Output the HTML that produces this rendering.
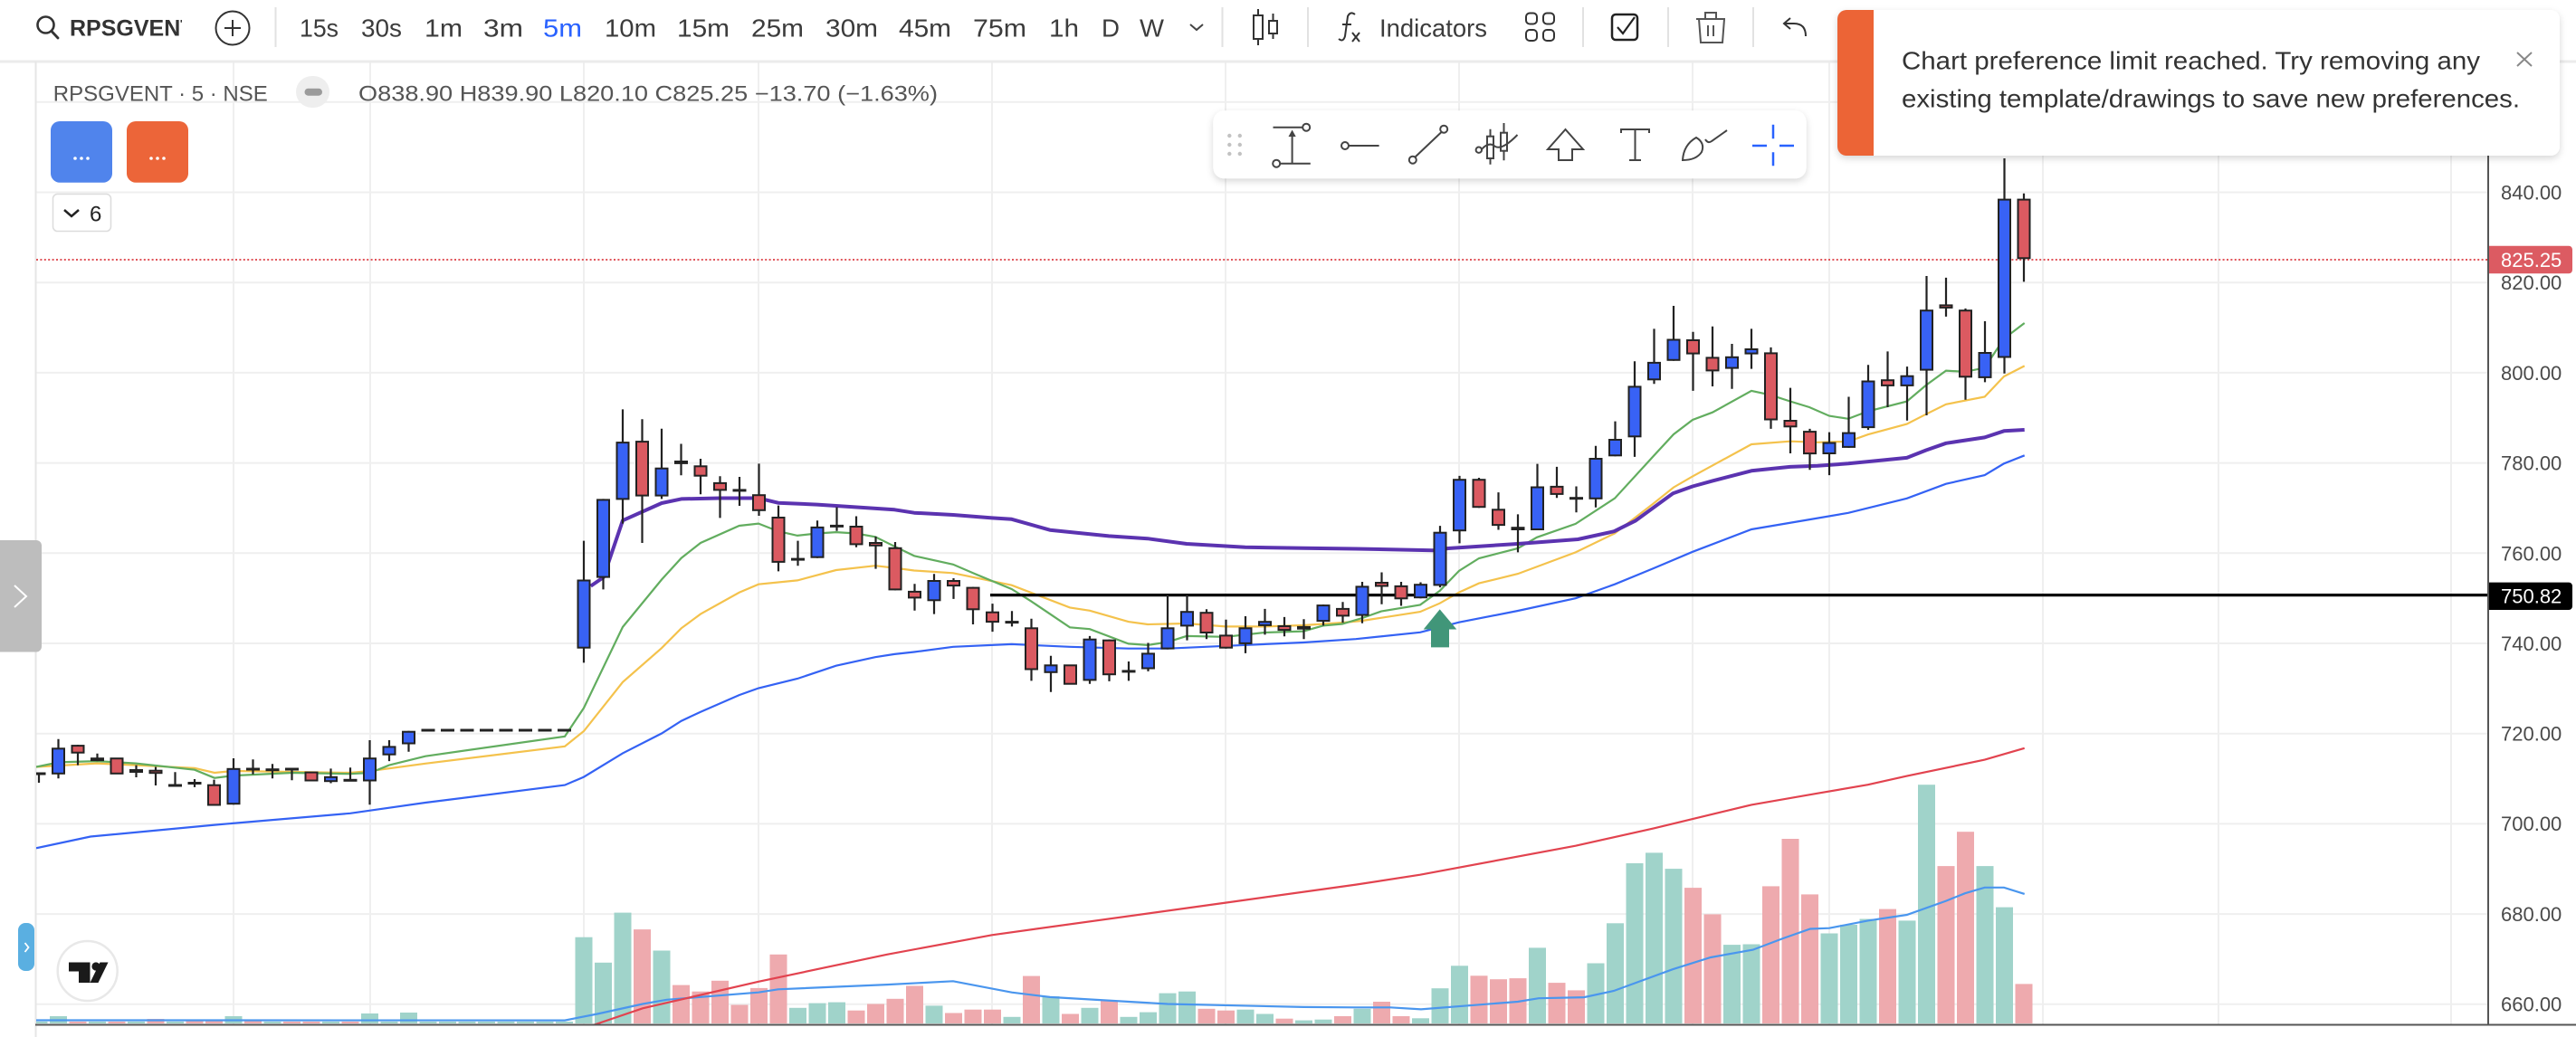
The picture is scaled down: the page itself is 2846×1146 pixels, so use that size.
<!DOCTYPE html>
<html><head><meta charset="utf-8"><style>
html,body{margin:0;padding:0;background:#fff;overflow:hidden}
svg{display:block}
text{font-family:"Liberation Sans",sans-serif}
</style></head><body>
<svg width="2846" height="1146" viewBox="0 0 2846 1146" xmlns="http://www.w3.org/2000/svg">
<defs>
<clipPath id="pane"><rect x="40" y="69" width="2709" height="1063"/></clipPath>
<clipPath id="sym"><rect x="70" y="0" width="131" height="60"/></clipPath>
<filter id="sh" x="-10%" y="-30%" width="120%" height="170%"><feDropShadow dx="0" dy="3" stdDeviation="4" flood-color="#000" flood-opacity="0.16"/></filter>
<clipPath id="toastclip"><rect x="2030" y="11" width="798" height="161" rx="10"/></clipPath>
</defs>
<rect width="2846" height="1146" fill="#fff"/>

<!-- grid -->
<g stroke="#efefef" stroke-width="2">
<path d="M40 112.8H2749M40 212.5H2749M40 312.2H2749M40 411.9H2749M40 511.6H2749M40 611.3H2749M40 711H2749M40 810.7H2749M40 910.4H2749M40 1010.1H2749M40 1109.8H2749"/>
<path d="M258 69V1132M409 69V1132M645 69V1132M838 69V1132M1096 69V1132M1354 69V1132M1612 69V1132M1870 69V1132M2021 69V1132M2257 69V1132M2451 69V1132M2708 69V1132"/>
</g>
<line x1="0" y1="68" x2="2846" y2="68" stroke="#ebebeb" stroke-width="3"/>
<line x1="39.5" y1="68" x2="39.5" y2="1146" stroke="#e6e6e6" stroke-width="2"/>

<g clip-path="url(#pane)">
<!-- volume -->
<g fill="#a0d3ca">
<rect x="33.5" y="1129" width="19" height="2"/><rect x="55" y="1123" width="19" height="8"/><rect x="98" y="1129" width="19" height="2"/><rect x="141" y="1129" width="19" height="2"/><rect x="184" y="1129" width="19" height="2"/><rect x="248.5" y="1123" width="19" height="8"/><rect x="291.5" y="1129" width="19" height="2"/><rect x="356" y="1129" width="19" height="2"/><rect x="399" y="1120" width="19" height="11"/><rect x="420.5" y="1129" width="19" height="2"/><rect x="442" y="1119" width="19" height="12"/>
<rect x="463.5" y="1129" width="19" height="2"/><rect x="485" y="1129" width="19" height="2"/><rect x="506.5" y="1129" width="19" height="2"/><rect x="528" y="1129" width="19" height="2"/><rect x="549.5" y="1129" width="19" height="2"/><rect x="571" y="1129" width="19" height="2"/><rect x="592.5" y="1129" width="19" height="2"/><rect x="614" y="1129" width="19" height="2"/>
<rect x="635.5" y="1035.7" width="19" height="95.3"/><rect x="657" y="1063.8" width="19" height="67.2"/><rect x="678.5" y="1008.6" width="19" height="122.4"/><rect x="721.5" y="1050.5" width="19" height="80.5"/>
<rect x="872" y="1113.8" width="19" height="17.2"/><rect x="893.5" y="1108.6" width="19" height="22.4"/><rect x="915" y="1107.6" width="19" height="23.4"/>
<rect x="1022.5" y="1111.4" width="19" height="19.6"/><rect x="1108.5" y="1123.8" width="19" height="7.2"/><rect x="1151.5" y="1101" width="19" height="30"/><rect x="1194.5" y="1113.8" width="19" height="17.2"/><rect x="1237.5" y="1123.8" width="19" height="7.2"/><rect x="1259" y="1118.6" width="19" height="12.4"/><rect x="1280.5" y="1097.6" width="19" height="33.4"/><rect x="1302" y="1095.7" width="19" height="35.3"/><rect x="1366.5" y="1115.7" width="19" height="15.3"/><rect x="1388" y="1120.5" width="19" height="10.5"/><rect x="1431" y="1127.6" width="19" height="3.4"/><rect x="1452.5" y="1126.7" width="19" height="4.3"/>
<rect x="1495.5" y="1114.8" width="19" height="16.2"/><rect x="1560" y="1125.3" width="19" height="5.7"/><rect x="1581.5" y="1092.2" width="19" height="38.8"/><rect x="1603" y="1067.3" width="19" height="63.7"/><rect x="1689" y="1047.4" width="19" height="83.6"/><rect x="1753.5" y="1064.5" width="19" height="66.5"/><rect x="1775" y="1020.3" width="19" height="110.7"/><rect x="1796.5" y="954" width="19" height="177"/><rect x="1818" y="942.4" width="19" height="188.6"/><rect x="1839.5" y="960.1" width="19" height="170.9"/><rect x="1904" y="1044.1" width="19" height="86.9"/><rect x="1925.5" y="1043.5" width="19" height="87.5"/>
<rect x="2011.5" y="1031.5" width="19" height="99.5"/><rect x="2033" y="1021.9" width="19" height="109.1"/><rect x="2054.5" y="1015.5" width="19" height="115.5"/><rect x="2097.5" y="1017.4" width="19" height="113.6"/><rect x="2119" y="867.2" width="19" height="263.8"/><rect x="2183.5" y="957.1" width="19" height="173.9"/><rect x="2205" y="1002.6" width="19" height="128.4"/>
</g>
<g fill="#eeaaae">
<rect x="76.5" y="1129" width="19" height="2"/><rect x="119.5" y="1129" width="19" height="2"/><rect x="162.5" y="1126" width="19" height="5"/><rect x="205.5" y="1128" width="19" height="3"/><rect x="227" y="1128" width="19" height="3"/><rect x="270" y="1128" width="19" height="3"/><rect x="313" y="1129" width="19" height="2"/><rect x="334.5" y="1129" width="19" height="2"/><rect x="377.5" y="1129" width="19" height="2"/>
<rect x="700" y="1027.1" width="19" height="103.9"/><rect x="743" y="1088.6" width="19" height="42.4"/><rect x="764.5" y="1095.7" width="19" height="35.3"/><rect x="786" y="1083.8" width="19" height="47.2"/><rect x="807.5" y="1110.5" width="19" height="20.5"/><rect x="829" y="1091.9" width="19" height="39.1"/><rect x="850.5" y="1054.8" width="19" height="76.2"/><rect x="936.5" y="1116.7" width="19" height="14.3"/><rect x="958" y="1109.5" width="19" height="21.5"/><rect x="979.5" y="1103.8" width="19" height="27.2"/><rect x="1001" y="1089.5" width="19" height="41.5"/><rect x="1044" y="1119.5" width="19" height="11.5"/><rect x="1065.5" y="1115.7" width="19" height="15.3"/><rect x="1087" y="1115.7" width="19" height="15.3"/><rect x="1130" y="1078.6" width="19" height="52.4"/><rect x="1173" y="1120.5" width="19" height="10.5"/><rect x="1216" y="1105.7" width="19" height="25.3"/><rect x="1323.5" y="1114.8" width="19" height="16.2"/><rect x="1345" y="1116.7" width="19" height="14.3"/><rect x="1409.5" y="1125.7" width="19" height="5.3"/><rect x="1474" y="1123" width="19" height="8"/>
<rect x="1517" y="1107" width="19" height="24"/><rect x="1538.5" y="1123" width="19" height="8"/><rect x="1624.5" y="1078.3" width="19" height="52.7"/><rect x="1646" y="1082.2" width="19" height="48.8"/><rect x="1667.5" y="1081.1" width="19" height="49.9"/><rect x="1710.5" y="1086.1" width="19" height="44.9"/><rect x="1732" y="1094.4" width="19" height="36.6"/><rect x="1861" y="981.1" width="19" height="149.9"/><rect x="1882.5" y="1010.4" width="19" height="120.6"/><rect x="1947" y="979.4" width="19" height="151.6"/><rect x="1968.5" y="927" width="19" height="204"/><rect x="1990" y="988.4" width="19" height="142.6"/>
<rect x="2076" y="1004.6" width="19" height="126.4"/><rect x="2140.5" y="957.1" width="19" height="173.9"/><rect x="2162" y="919.2" width="19" height="211.8"/><rect x="2226.5" y="1087.4" width="19" height="43.6"/>
</g>
<!-- volume MA -->
<polyline fill="none" stroke="#4a96ee" stroke-width="2.2" points="40,1127.5 624,1127.6 660,1120.5 710,1109.5 736.7,1104.8 838,1096.7 859.7,1093.3 980,1088.1 1053,1084.3 1117.7,1096.7 1160,1101.9 1290,1109.5 1440,1112.9 1498,1113.3 1536,1113.3 1570,1115.4 1676.7,1107 1700,1103.2 1750,1102.1 1783,1095 1848,1071.2 1890,1058 1936.7,1049.6 1970,1037 2000,1026.5 2021,1025.7 2063.7,1017.4 2106.7,1011 2150,995.6 2171,987.2 2192.7,980.8 2214,980.8 2236.7,987.9"/>
<!-- red long MA -->
<polyline fill="none" stroke="#e2434f" stroke-width="2.2" points="655,1133 710,1114.3 838,1084.8 980,1054.8 1096,1033.3 1354,997.6 1498,977.6 1569,966.7 1740.7,934.7 1827,915.4 1935,889.4 2008.3,876.7 2063.7,867.2 2106.7,857.6 2192.7,839.6 2236.7,826.8"/>
<!-- blue MA -->
<polyline fill="none" stroke="#3462f4" stroke-width="2.2" points="40,937.3 100,924.5 237,911.6 387,898.8 470,887 624,867.6 645,858.6 688,832.4 731,810.5 752.7,796.7 774,786.7 816.7,768.1 838,760.5 881,750 923.7,735.7 967,726.2 988.3,722.9 1010,720.5 1053,714.8 1117.7,711.9 1182,714.8 1246.7,716.7 1290,716.7 1354,713.8 1440,710 1498,706.2 1569,698.8 1612,687.7 1677,675 1740.7,661.2 1784,645.7 1827,628 1870,609.8 1935,585 2000,574 2042,566.8 2106.7,550.8 2150,534.7 2192.7,525.1 2214,512.3 2236.7,503.3"/>
<!-- yellow MA -->
<polyline fill="none" stroke="#f4c24c" stroke-width="2.2" points="40,847.5 107,843.6 215,848.8 237,854 258,852 387,854 409,852 470,843.8 624,824.8 645,808 688,753.8 731,716.2 752.7,694.3 774,678.6 816.7,654.8 838,645.7 881,641.4 923.7,630 967,625.2 988.3,627.6 1010,630.5 1053,633.3 1117.7,646.7 1182,671.4 1204,674.8 1246.7,687.1 1268,690 1311,689 1354,692.4 1397,692.4 1440,691 1483,688.1 1505,686 1569,676.1 1590.7,666.7 1612,654.6 1634,644.6 1677,634.1 1740.7,610.4 1784,589.4 1827,556.2 1849,538.6 1870,526.4 1935,491 1977.7,487.7 2008,488.8 2042,487.9 2063.7,480.2 2106.7,468.6 2128,457.7 2150,446.8 2192.7,438.5 2214,416 2236.7,404.4"/>
<!-- green MA -->
<polyline fill="none" stroke="#62ad5f" stroke-width="2.2" points="40,847.5 65,842.4 107,841.1 150,843.6 215,850.7 237,859.7 258,857.1 323,854 387,855.2 409,854 430,845.6 470,835.7 624,813.8 645,782.4 688,692.9 731,640.5 752.7,616.7 774,600 816.7,581 838,578.6 859.7,587.1 881,591.9 902.7,589.5 923.7,588.1 945.7,589.5 967,593.3 988.3,603.8 1010,614.3 1053,623.8 1075,633.3 1117.7,651 1139,664.3 1182,693.3 1204,695.2 1246.7,711.4 1268,712.9 1290,709.5 1311,702.9 1354,703.8 1397,699 1440,697.6 1461.7,691.4 1483,689.5 1505,683 1526,675.6 1569,668.4 1590.7,652.9 1612,630.8 1634,617 1677,606 1698,593.8 1740.7,578.9 1784,550.7 1827,503.8 1849,480 1870,464 1892,455.7 1935,431.9 1956,436.4 1977.7,443.5 1999,450 2021,459.6 2042,462.8 2063.7,454.5 2106.7,443.6 2128,425.6 2150,409.6 2171,410.9 2192.7,406.4 2214,374.3 2236.7,357"/>
<!-- purple MA -->
<polyline fill="none" stroke="#5b33b0" stroke-width="4" stroke-linejoin="round" points="652.7,647.6 666.7,638 688,575.2 731,556 752.7,551.4 795.7,550.5 838,550.5 859.7,555.7 902.7,557.6 988.3,563.3 1010,566.7 1053,569 1096,572.4 1117.7,573.8 1160,585.7 1225,592.4 1268,595.2 1311,601 1375.7,604.8 1440,605.7 1498,606.5 1583.3,608.2 1600,606 1676.7,601 1743.3,596 1783.3,587.2 1806.7,575.6 1848.3,545.2 1870,537.5 1892,531.4 1935,520.3 1977.7,515.9 2008,514.8 2042,512.3 2106.7,505.9 2128,497.5 2150,489.8 2192.7,483.4 2214,476.3 2236.7,475"/>
<!-- last price dotted -->
<line x1="40" y1="287" x2="2749" y2="287" stroke="#e0555a" stroke-width="2" stroke-dasharray="2 2.4"/>
<!-- horizontal level -->
<line x1="1094" y1="657.6" x2="2749" y2="657.6" stroke="#000" stroke-width="3.2"/>

<!-- wicks -->
<path fill="none" stroke="#222" stroke-width="2.2" d="M43 855V865M64.5 816.7V860.3M86 823.1V845.6M107.5 832.7V841.1M150.5 845.6V859M172 847.5V868M193.5 853.3V868M215 861V869.9M236.5 861.6V890.5M258 838V889.2M279.5 839.2V855.8M301 844.3V860.3M322.5 850V862.3M365.5 849.4V865.5M387 848.2V862.3M408.5 818V889.2M430 818V841.1M451.5 807.7V830.8M645 597.6V732.4M666.5 551.4V651.4M688 452.4V578.6M709.5 463.3V600M731 473.8V551.4M752.5 490.5V525.2M774 507V546.2M795.5 526.2V572.4M817 527V559M838.5 512.4V570M860 558.6V631.4M881.5 597.6V625.2M903 575.2V616.7M924.5 560.5V586.7M946 570.5V604.8M967.5 592.9V628.6M989 599V652.4M1010.5 645.2V674.8M1032 634.3V678.6M1053.5 639V661.9M1075 648.6V690M1096.5 667.1V698.1M1118 675.2V692.4M1139.5 683.8V752.4M1161 724.8V764.8M1204 702.9V755.7M1225.5 706.7V752.9M1247 731V752.4M1268.5 710.5V741.9M1290 657.1V717.6M1311.5 657.1V707.6M1333 673.3V706.2M1354.5 684.8V716.7M1376 681V721.9M1397.5 672.9V701.4M1419 681.9V703.3M1440.5 684.3V706.2M1462 668.1V691.4M1483.5 665.2V688.1M1505 643V688.8M1526.5 632.5V667.8M1548 643V669.5M1569.5 643.5V661.2M1591 581.1V649.1M1612.5 525.9V600.4M1634 528V561.2M1655.5 544.1V585.5M1677 568.4V610.4M1698.5 512.6V586M1720 515.9V550.2M1741.5 537.5V566.2M1763 492.7V560.7M1784.5 465.6V504.3M1806 399.3V504.9M1827.5 363.4V424.2M1849 338V398.8M1870.5 366.7V431.9M1892 360.7V427M1913.5 380V429.7M1935 363.4V407.6M1956.5 383.9V473.9M1978 428.6V501M1999.5 473.9V519.2M2021 477.6V525.1M2042.5 438.5V494.9M2064 403.2V475M2085.5 388.4V450M2107 405.1V464.8M2128.5 305V459M2150 306.9V349.9M2171.5 340.9V441.7M2193 355V422.4M2214.5 175V412.8M2236 213.8V311.4"/>
<!-- bodies -->
<g stroke="#222" stroke-width="2">
<g fill="#3862f5">
<rect x="36.5" y="854.5" width="13" height="1"/><rect x="58" y="827.3" width="13" height="27.5"/><rect x="101" y="838.2" width="13" height="1.9"/><rect x="144" y="851" width="13" height="2"/><rect x="251.5" y="849.8" width="13" height="38.4"/><rect x="359" y="858.8" width="13" height="4.4"/><rect x="402" y="838.2" width="13" height="24.3"/><rect x="423.5" y="825.4" width="13" height="8.3"/><rect x="445" y="808.7" width="13" height="12.8"/>
<rect x="638.5" y="641.5" width="13" height="74.2"/><rect x="660" y="552.4" width="13" height="85.2"/><rect x="681.5" y="489.1" width="13" height="62.3"/><rect x="724.5" y="517.7" width="13" height="29.9"/><rect x="896.5" y="582.9" width="13" height="32.8"/><rect x="1025.5" y="642" width="13" height="21.3"/><rect x="1154.5" y="735.3" width="13" height="7.5"/><rect x="1197.5" y="706.7" width="13" height="44.7"/><rect x="1262" y="722.4" width="13" height="16.1"/><rect x="1283.5" y="694.3" width="13" height="22.3"/><rect x="1305" y="676.2" width="13" height="15.2"/><rect x="1369.5" y="694.3" width="13" height="16.6"/><rect x="1391" y="687.2" width="13" height="3.7"/><rect x="1434" y="692.9" width="13" height="1.8"/><rect x="1455.5" y="669.1" width="13" height="17"/>
<rect x="1498.5" y="648.4" width="13" height="31.2"/><rect x="1563" y="646.2" width="13" height="14"/><rect x="1584.5" y="588.7" width="13" height="57.7"/><rect x="1606" y="530.2" width="13" height="56"/><rect x="1692" y="538.5" width="13" height="46.5"/><rect x="1756.5" y="507" width="13" height="43.8"/><rect x="1778" y="486" width="13" height="17.3"/><rect x="1799.5" y="427.4" width="13" height="54.9"/><rect x="1821" y="400.9" width="13" height="18.4"/><rect x="1842.5" y="375.5" width="13" height="22.3"/><rect x="1907" y="394.8" width="13" height="11.8"/><rect x="1928.5" y="386" width="13" height="4.6"/>
<rect x="2014.5" y="489.5" width="13" height="11.5"/><rect x="2036" y="478.6" width="13" height="15.3"/><rect x="2057.5" y="421.5" width="13" height="50.6"/><rect x="2100.5" y="415.7" width="13" height="10.2"/><rect x="2122" y="343.2" width="13" height="65.4"/><rect x="2186.5" y="390" width="13" height="26.9"/><rect x="2208" y="220.6" width="13" height="173.9"/>
</g>
<g fill="#db5a61">
<rect x="79.5" y="824.1" width="13" height="7.6"/><rect x="122.5" y="838.2" width="13" height="16.6"/><rect x="165.5" y="851.7" width="13" height="2.5"/><rect x="230" y="867.7" width="13" height="21.8"/><rect x="337.5" y="853.6" width="13" height="8.9"/>
<rect x="703" y="488.1" width="13" height="59.5"/><rect x="746" y="510" width="13" height="1.9"/><rect x="767.5" y="515.3" width="13" height="10.4"/><rect x="789" y="533.9" width="13" height="7.5"/><rect x="832" y="547.2" width="13" height="16.6"/><rect x="853.5" y="572" width="13" height="48.9"/><rect x="939.5" y="582" width="13" height="19.4"/><rect x="961" y="600" width="13" height="2.8"/><rect x="982.5" y="605.8" width="13" height="45.6"/><rect x="1004" y="653.9" width="13" height="6.5"/><rect x="1047" y="642" width="13" height="5.1"/><rect x="1068.5" y="649.6" width="13" height="23.7"/><rect x="1090" y="676.7" width="13" height="10.4"/><rect x="1133" y="694.3" width="13" height="45.2"/><rect x="1176" y="735.3" width="13" height="20.4"/><rect x="1219" y="707.7" width="13" height="37.5"/><rect x="1326.5" y="677.2" width="13" height="21.8"/><rect x="1348" y="702.4" width="13" height="13.3"/><rect x="1412.5" y="692" width="13" height="4.1"/><rect x="1477" y="672.9" width="13" height="7.5"/>
<rect x="1520" y="644" width="13" height="3.5"/><rect x="1541.5" y="647.9" width="13" height="13.4"/><rect x="1627.5" y="530.2" width="13" height="30"/><rect x="1649" y="563.3" width="13" height="16.8"/><rect x="1670.5" y="583.2" width="13" height="1.8"/><rect x="1713.5" y="537.9" width="13" height="8"/><rect x="1864" y="376" width="13" height="14.6"/><rect x="1885.5" y="395.4" width="13" height="14"/><rect x="1950" y="390.4" width="13" height="73.1"/><rect x="1971.5" y="465" width="13" height="6.3"/><rect x="1993" y="477.1" width="13" height="24"/>
<rect x="2079" y="420.2" width="13" height="5.7"/><rect x="2143.5" y="337.4" width="13" height="2.5"/><rect x="2165" y="343.2" width="13" height="73.1"/><rect x="2229.5" y="220.6" width="13" height="64.7"/>
</g>
<g fill="#222">
<rect x="187" y="867.5" width="13" height="1"/><rect x="208.5" y="865" width="13" height="1"/><rect x="273" y="849.5" width="13" height="1"/><rect x="294.5" y="850.2" width="13" height="1"/><rect x="316" y="849.5" width="13" height="1"/><rect x="380.5" y="861.8" width="13" height="1"/>
<rect x="466.5" y="806.5" width="13" height="1"/><rect x="488" y="806.5" width="13" height="1"/><rect x="509.5" y="806.5" width="13" height="1"/><rect x="531" y="806.5" width="13" height="1"/><rect x="552.5" y="806.5" width="13" height="1"/><rect x="574" y="806.5" width="13" height="1"/><rect x="595.5" y="806.5" width="13" height="1"/><rect x="617" y="806.5" width="13" height="1"/>
<rect x="810.5" y="541.4" width="13" height="1"/><rect x="875" y="617.6" width="13" height="1"/><rect x="918" y="580.9" width="13" height="1"/><rect x="1111.5" y="687.1" width="13" height="1"/><rect x="1240.5" y="741.4" width="13" height="1"/><rect x="1735" y="550.2" width="13" height="1"/>
</g>
</g>
<!-- arrow drawing -->
<polygon fill="#419679" points="1590.7,673.4 1572.7,695.5 1581,695.5 1581,715.4 1601,715.4 1601,695.5 1609.3,695.5"/>
</g>

<!-- axes -->
<line x1="2749" y1="68" x2="2749" y2="1133" stroke="#555" stroke-width="2"/>
<line x1="39" y1="1132.5" x2="2846" y2="1132.5" stroke="#555" stroke-width="2"/>
<g font-size="22" fill="#4a4a4a">
<text x="2763" y="220.5">840.00</text><text x="2763" y="320.2">820.00</text><text x="2763" y="419.9">800.00</text><text x="2763" y="519.6">780.00</text><text x="2763" y="619.3">760.00</text><text x="2763" y="718.8">740.00</text><text x="2763" y="818.5">720.00</text><text x="2763" y="918.2">700.00</text><text x="2763" y="1017.9">680.00</text><text x="2763" y="1117.6">660.00</text>
</g>
<path d="M2750 271.7H2838a4 4 0 0 1 4 4V298.3a4 4 0 0 1 -4 4H2750Z" fill="#dc5b62"/>
<text x="2763" y="294.8" font-size="22" fill="#fff">825.25</text>
<path d="M2750 643.6H2838a4 4 0 0 1 4 4V670a4 4 0 0 1 -4 4H2750Z" fill="#000"/>
<text x="2763" y="666.6" font-size="22" fill="#fff">750.82</text>

<!-- top toolbar -->
<circle cx="50.5" cy="27.5" r="9" fill="none" stroke="#333" stroke-width="2.6"/>
<line x1="57" y1="34.5" x2="64" y2="42" stroke="#333" stroke-width="2.8" stroke-linecap="round"/>
<text x="77" y="39.3" font-size="25" font-weight="bold" fill="#333" clip-path="url(#sym)">RPSGVENT</text>
<circle cx="257" cy="31" r="18.5" fill="none" stroke="#333" stroke-width="2"/>
<path d="M248 31H266M257 22V40" stroke="#333" stroke-width="2"/>
<g stroke="#e2e2e2" stroke-width="2"><path d="M304.5 8V52M1350.5 8V52M1445 8V52M1749 8V52M1843 8V52M1937 8V52"/></g>
<g font-size="27.5" fill="#3c3c3c">
<text x="331" y="40.7" textLength="43" lengthAdjust="spacingAndGlyphs">15s</text>
<text x="399" y="40.7" textLength="45" lengthAdjust="spacingAndGlyphs">30s</text>
<text x="469" y="40.7" textLength="42" lengthAdjust="spacingAndGlyphs">1m</text>
<text x="534" y="40.7" textLength="44" lengthAdjust="spacingAndGlyphs">3m</text>
<text x="600" y="40.7" textLength="43" lengthAdjust="spacingAndGlyphs" fill="#2962ff">5m</text>
<text x="668" y="40.7" textLength="57" lengthAdjust="spacingAndGlyphs">10m</text>
<text x="748" y="40.7" textLength="58" lengthAdjust="spacingAndGlyphs">15m</text>
<text x="830" y="40.7" textLength="58" lengthAdjust="spacingAndGlyphs">25m</text>
<text x="912" y="40.7" textLength="58" lengthAdjust="spacingAndGlyphs">30m</text>
<text x="993" y="40.7" textLength="58" lengthAdjust="spacingAndGlyphs">45m</text>
<text x="1075" y="40.7" textLength="59" lengthAdjust="spacingAndGlyphs">75m</text>
<text x="1159" y="40.7" textLength="33" lengthAdjust="spacingAndGlyphs">1h</text>
<text x="1217" y="40.7" textLength="20" lengthAdjust="spacingAndGlyphs">D</text>
<text x="1259" y="40.7" textLength="27" lengthAdjust="spacingAndGlyphs">W</text>
<text x="1524" y="40.7" textLength="119" lengthAdjust="spacingAndGlyphs">Indicators</text>
</g>
<polyline points="1315,27 1322,33 1329,27" fill="none" stroke="#444" stroke-width="2"/>
<g fill="none" stroke="#333" stroke-width="2">
<rect x="1385" y="17" width="10" height="26"/><path d="M1390 10V17M1390 43V50"/>
<rect x="1402" y="23" width="9" height="14"/><path d="M1406.5 15V23M1406.5 37V43"/>
<path d="M1497 16Q1492 12 1489 18L1486 40Q1484 47 1479 43"/><path d="M1483 27H1493"/>
<path d="M1494 36L1502 46M1502 36L1494 46"/>
<rect x="1686" y="14.5" width="12" height="12" rx="4"/><rect x="1705" y="14.5" width="12" height="12" rx="4"/><rect x="1686" y="33" width="12" height="12" rx="4"/><rect x="1705" y="33" width="12" height="12" rx="4"/>
</g>
<rect x="1781" y="16" width="28" height="28" rx="4" fill="none" stroke="#222" stroke-width="2.5"/>
<polyline points="1787,30 1793,37 1806,19" fill="none" stroke="#222" stroke-width="2.2"/>
<g fill="none" stroke="#555" stroke-width="2">
<path d="M1874 21H1906M1884 21V14H1896V21M1877 21L1879 47H1903L1905 21M1887 28V40M1893 28V40"/>
</g>
<path d="M1995 40Q1995 26 1982 26H1972M1978 20L1971 26L1978 32" fill="none" stroke="#333" stroke-width="2"/>

<!-- legend -->
<text x="58.8" y="111.5" font-size="24" fill="#555" textLength="237" lengthAdjust="spacingAndGlyphs">RPSGVENT · 5 · NSE</text>
<rect x="327" y="84" width="37" height="35" rx="17.5" fill="#eeeeee"/>
<rect x="336.5" y="97.7" width="19.5" height="8" rx="4" fill="#9b9b9b"/>
<text x="396" y="111.5" font-size="24" fill="#555" textLength="640" lengthAdjust="spacingAndGlyphs">O838.90 H839.90 L820.10 C825.25 −13.70 (−1.63%)</text>
<rect x="56" y="134" width="68" height="67.7" rx="10" fill="#5084ec"/>
<rect x="140" y="134" width="68" height="67.7" rx="10" fill="#ec6539"/>
<g fill="#fff"><circle cx="83" cy="175" r="1.8"/><circle cx="90" cy="175" r="1.8"/><circle cx="97" cy="175" r="1.8"/><circle cx="167" cy="175" r="1.8"/><circle cx="174" cy="175" r="1.8"/><circle cx="181" cy="175" r="1.8"/></g>
<rect x="58.5" y="214.5" width="64" height="41" rx="5" fill="#fff" stroke="#dcdcdc" stroke-width="1.5"/>
<polyline points="71,232 79,239 87,232" fill="none" stroke="#222" stroke-width="2.5"/>
<text x="99" y="244.6" font-size="24" fill="#222">6</text>

<!-- left tabs & logo -->
<path d="M0 597H40a6 6 0 0 1 6 6V714.5a6 6 0 0 1 -6 6H0Z" fill="#bdbdbd"/>
<polyline points="16,647 29,659 16,671" fill="none" stroke="#fff" stroke-width="2"/>
<rect x="20" y="1020" width="18" height="53" rx="8" fill="#5aafe1"/>
<polyline points="27.5,1042 31.5,1047 27.5,1052" fill="none" stroke="#fff" stroke-width="1.8"/>
<circle cx="96.7" cy="1073" r="33" fill="#fff" stroke="#e8e8e8" stroke-width="2.5"/>
<path d="M76 1063.5H99.5V1086H87V1073.5H76Z" fill="#1a1a1a"/>
<circle cx="106" cy="1068" r="4.6" fill="#1a1a1a"/>
<path d="M110.5 1063.5H119.5L108.5 1086H99.5Z" fill="#1a1a1a"/>

<!-- drawing toolbar -->
<rect x="1340.4" y="122.3" width="655.2" height="75" rx="12" fill="#fff" filter="url(#sh)"/>
<g fill="#c2c2c2"><circle cx="1358.3" cy="150" r="2.2"/><circle cx="1369.8" cy="150" r="2.2"/><circle cx="1358.3" cy="160" r="2.2"/><circle cx="1369.8" cy="160" r="2.2"/><circle cx="1358.3" cy="170" r="2.2"/><circle cx="1369.8" cy="170" r="2.2"/></g>
<g fill="none" stroke="#444" stroke-width="2">
<path d="M1406.5 140.7H1439M1414.5 180.7H1447.8M1427.6 180.7V147"/>
<circle cx="1443.2" cy="140.7" r="4"/><circle cx="1410.2" cy="180.7" r="4"/>
<circle cx="1486" cy="161" r="4"/><path d="M1490 161H1523.6"/>
<circle cx="1560.8" cy="176.7" r="4"/><circle cx="1595.2" cy="142.7" r="4"/><path d="M1563.5 173.5L1592.5 146"/>
<rect x="1643" y="150.7" width="7" height="24.3"/><path d="M1646.5 142.7V150.7M1646.5 175V181.7"/>
<rect x="1658" y="146.7" width="7" height="20"/><path d="M1661.5 136V146.7M1661.5 166.7V177.3"/>
<circle cx="1633.8" cy="165.7" r="3.2"/><path d="M1637 165Q1645 156 1652 162Q1660 166 1676.5 149"/>
<polygon points="1729.5,143 1710,165 1722,165 1722,177 1737,177 1737,165 1749,165"/>
<path d="M1791 147V143H1822V147M1806.5 143V177M1800 177H1813"/>
<path d="M1859 177Q1860 160 1874 152Q1884 158 1880 168Q1874 177 1859 177Z"/>
<path d="M1884 154Q1887 159 1891 156L1908 144"/>
</g>
<path d="M1936 161H1952M1966 161H1982M1959 137.7V153.3M1959 168.3V183.3" stroke="#2962ff" stroke-width="2.5"/>
<polygon points="1423.5,151 1427.6,143.5 1431.7,151" fill="#444"/>

<!-- toast -->
<rect x="2030" y="11" width="798" height="161" rx="10" fill="#fff" filter="url(#sh)"/>
<rect x="2030" y="11" width="40" height="161" fill="#ec6436" clip-path="url(#toastclip)"/>
<text x="2101" y="76.7" font-size="28" fill="#333" textLength="639" lengthAdjust="spacingAndGlyphs">Chart preference limit reached. Try removing any</text>
<text x="2101" y="118.3" font-size="28" fill="#333" textLength="683" lengthAdjust="spacingAndGlyphs">existing template/drawings to save new preferences.</text>
<path d="M2781 58L2797 73M2797 58L2781 73" stroke="#888" stroke-width="2"/>
</svg>
</body></html>
